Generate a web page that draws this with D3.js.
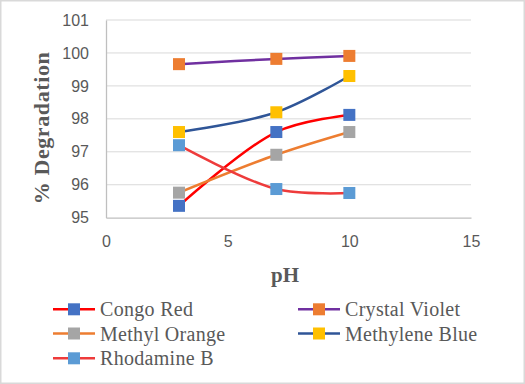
<!DOCTYPE html>
<html><head><meta charset="utf-8">
<script src="https://cdn.jsdelivr.net/npm/d3@7"></script>
<style>body{margin:0;background:#fff}svg{display:block}</style>
</head><body><svg id="c" width="525" height="384"></svg>
<script>
const phValues = [3, 7, 10];
const seriesNames = ["Congo Red", "Crystal Violet", "Methyl Orange", "Methylene Blue", "Rhodamine B"];
const congoRed = [95.36, 97.6, 98.12];
const crystalViolet = [99.66, 99.82, 99.91];
const methylOrange = [95.76, 96.91, 97.6];
const methyleneBlue = [97.6, 98.2, 99.3];
const rhodamineB = [97.2, 95.87, 95.75];
const xTicks = [0, 5, 10, 15];
const yTicks = [95, 96, 97, 98, 99, 100, 101];
const lineColors = ["#FF0000", "#7030A0", "#ED7D31", "#2F5597", "#EE3B3B"];
const markerColors = ["#4472C4", "#ED7D31", "#A5A5A5", "#FFC000", "#5B9BD5"];
const allValues = [congoRed, crystalViolet, methylOrange, methyleneBlue, rhodamineB];

const svg = d3.select("#c");
svg.append("rect").attr("x",0.75).attr("y",0.75).attr("width",523.5).attr("height",382.5)
  .attr("fill","#fff").attr("stroke","#D9D9D9").attr("stroke-width",1.5);

const x = d3.scaleLinear().domain([0,15]).range([106,471]);
const y = d3.scaleLinear().domain([95,101]).range([217.7,20]);

// gridlines
svg.append("g").selectAll("line").data(yTicks.filter(d=>d>95)).join("line")
  .attr("x1",x(0)).attr("x2",x(15)).attr("y1",d=>y(d)).attr("y2",d=>y(d))
  .attr("stroke","#D9D9D9").attr("stroke-width",1);

// axes
const yAxis = svg.append("g").attr("transform",`translate(${x(0)},0)`)
  .call(d3.axisLeft(y).tickValues(yTicks).tickFormat(d3.format("d")).tickSize(0).tickPadding(17));
yAxis.select(".domain").attr("stroke","#BFBFBF").attr("stroke-width",1.3);
const xAxis = svg.append("g").attr("transform",`translate(0,${y(95)})`)
  .call(d3.axisBottom(x).tickValues(xTicks).tickFormat(d3.format("d")).tickSize(0).tickPadding(18));
xAxis.select(".domain").attr("stroke","#BFBFBF").attr("stroke-width",1.3);
svg.selectAll(".tick text").attr("font-family","Liberation Sans, Arial, sans-serif")
  .attr("font-size",16).attr("fill","#595959");

// axis titles
svg.append("text").attr("x",285).attr("y",282).attr("text-anchor","middle")
  .attr("font-family","Liberation Serif, serif").attr("font-weight","bold")
  .attr("font-size",21).attr("fill","#595959").text("pH");
svg.append("text").attr("transform",`translate(48.5,128) rotate(-90)`)
  .attr("text-anchor","middle")
  .attr("font-family","Liberation Serif, serif").attr("font-weight","bold")
  .attr("font-size",22).attr("letter-spacing",0.6).attr("fill","#595959").text("% Degradation");

// lines
const line = d3.line().x(d=>x(d[0])).y(d=>y(d[1])).curve(d3.curveCatmullRom.alpha(0.5));
allValues.forEach((vals,i)=>{
  const pts = phValues.map((p,j)=>[p,vals[j]]);
  svg.append("path").attr("d",line(pts)).attr("fill","none")
    .attr("stroke",lineColors[i]).attr("stroke-width",2.5);
});
allValues.forEach((vals,i)=>{
  svg.append("g").selectAll("rect").data(phValues.map((p,j)=>[p,vals[j]])).join("rect")
    .attr("x",d=>x(d[0])-6).attr("y",d=>y(d[1])-6).attr("width",12).attr("height",12)
    .attr("fill",markerColors[i]);
});

// legend
const legendPos = [[53,309.3],[298,309.3],[53,333.5],[298,333.5],[53,358.3]];
seriesNames.forEach((name,i)=>{
  const [lx,ly] = legendPos[i];
  const g = svg.append("g");
  g.append("line").attr("x1",lx).attr("x2",lx+42).attr("y1",ly).attr("y2",ly)
    .attr("stroke",lineColors[i]).attr("stroke-width",2.5);
  g.append("rect").attr("x",lx+15).attr("y",ly-6).attr("width",12).attr("height",12)
    .attr("fill",markerColors[i]);
  g.append("text").attr("x",lx+47).attr("y",ly+7)
    .attr("font-family","Liberation Serif, serif").attr("font-size",20)
    .attr("letter-spacing",0.3).attr("fill","#595959").text(name);
});
</script></body></html>
